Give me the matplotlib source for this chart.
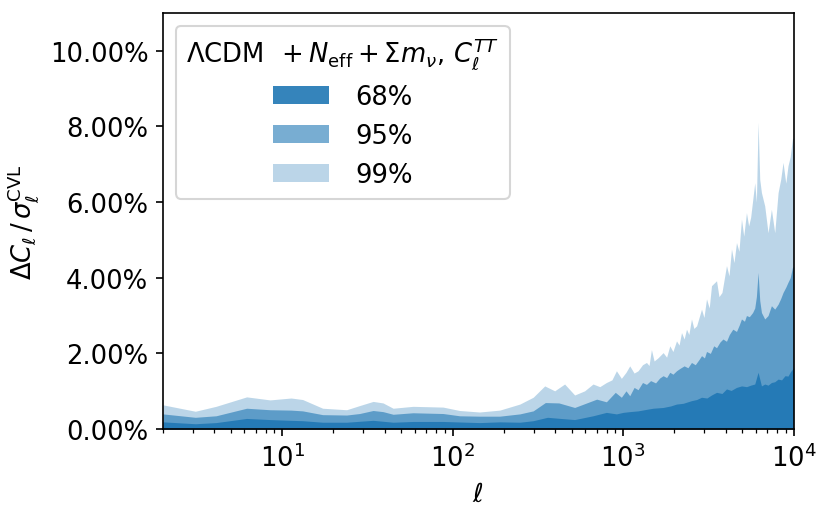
import matplotlib
matplotlib.use('Agg')
import matplotlib.pyplot as plt
from matplotlib.ticker import PercentFormatter

# multipole ell and the upper edge of each band (fraction)
ell_99 = [2, 3.1, 4.1, 6.2, 8.5, 11.3, 13.2, 17.3, 23.9, 28.5, 34.2, 39.1, 44.8, 58.6, 87.9,
          110, 144, 189, 248, 297, 347, 397, 454, 520, 595, 666, 730, 798, 860, 914, 977,
          1040, 1094, 1160, 1224, 1300, 1371, 1420, 1466, 1520, 1600, 1717, 1800, 1879, 1960,
          2057, 2130, 2201, 2280, 2354, 2430, 2518, 2600, 2700, 2884, 2980, 3085, 3200, 3300,
          3532, 3650, 3800, 4040, 4180, 4322, 4470, 4624, 4780, 4946, 5100, 5290, 5450, 5600,
          5917, 6050, 6190, 6330, 6478, 6770, 7080, 7410, 7750, 8110, 8400, 8670, 9000, 9270,
          9550, 9840, 10000]
upper_99 = [0.0064, 0.0047, 0.0060, 0.0085, 0.0077, 0.0082, 0.0078, 0.0055, 0.0051, 0.0062,
            0.0073, 0.0069, 0.0055, 0.0060, 0.0058, 0.0049, 0.0045, 0.0050, 0.0066, 0.0084,
            0.0114, 0.0101, 0.0119, 0.0090, 0.0101, 0.0119, 0.0112, 0.0123, 0.0130, 0.0154,
            0.0134, 0.0150, 0.0167, 0.0148, 0.0154, 0.0170, 0.0176, 0.0168, 0.0210, 0.0180,
            0.0188, 0.0202, 0.0190, 0.0220, 0.0205, 0.0233, 0.0222, 0.0255, 0.0238, 0.0264,
            0.0250, 0.0291, 0.0266, 0.0273, 0.0317, 0.0295, 0.0344, 0.0320, 0.0379, 0.0392,
            0.0350, 0.0361, 0.0432, 0.0405, 0.0476, 0.0440, 0.0493, 0.0470, 0.0555, 0.0510,
            0.0572, 0.0537, 0.0560, 0.0651, 0.0600, 0.0811, 0.0660, 0.0625, 0.0590, 0.0519,
            0.0581, 0.0519, 0.0625, 0.0660, 0.0705, 0.0650, 0.0696, 0.0720, 0.0767, 0.0770]

ell_95 = [2, 3.1, 4.1, 6.2, 8.5, 11.3, 13.2, 17.3, 23.9, 28.5, 34.2, 39.1, 44.8, 58.6, 87.9,
          110, 144, 189, 248, 297, 350, 420, 520, 620, 700, 798, 900, 977, 1040, 1094, 1160,
          1224, 1300, 1371, 1450, 1550, 1640, 1717, 1800, 1879, 1960, 2057, 2150, 2280, 2400,
          2518, 2650, 2800, 2884, 3000, 3085, 3250, 3400, 3532, 3700, 3850, 4040, 4200, 4400,
          4624, 4800, 4946, 5150, 5290, 5500, 5750, 5917, 6050, 6190, 6330, 6478, 6770, 7080,
          7410, 7750, 8110, 8400, 8670, 9000, 9270, 9550, 9840, 10000]
upper_95 = [0.0040, 0.0031, 0.0035, 0.0055, 0.0051, 0.0050, 0.0048, 0.0038, 0.0037, 0.0041,
            0.0049, 0.0046, 0.0039, 0.0043, 0.0041, 0.0035, 0.0034, 0.0034, 0.0040, 0.0048,
            0.0070, 0.0069, 0.0057, 0.0070, 0.0079, 0.0072, 0.0097, 0.0084, 0.0101, 0.0088,
            0.0110, 0.0104, 0.0123, 0.0118, 0.0128, 0.0122, 0.0135, 0.0141, 0.0136, 0.0150,
            0.0145, 0.0154, 0.0160, 0.0167, 0.0162, 0.0176, 0.0170, 0.0185, 0.0194, 0.0188,
            0.0205, 0.0200, 0.0220, 0.0215, 0.0230, 0.0238, 0.0232, 0.0250, 0.0264, 0.0258,
            0.0275, 0.0291, 0.0285, 0.0300, 0.0297, 0.0308, 0.0320, 0.0350, 0.0414, 0.0340,
            0.0308, 0.0291, 0.0300, 0.0326, 0.0317, 0.0330, 0.0345, 0.0361, 0.0375, 0.0388,
            0.0400, 0.0427, 0.0430]

ell_68 = [2, 3.1, 4.1, 6.2, 8.5, 11.3, 13.2, 17.3, 23.9, 34.2, 44.8, 58.6, 87.9, 144, 189,
          248, 297, 360, 430, 520, 666, 798, 914, 1000, 1094, 1224, 1371, 1500, 1717, 1900,
          2057, 2250, 2518, 2700, 2884, 3100, 3300, 3532, 3800, 4040, 4300, 4624, 4950, 5300,
          5600, 5917, 6190, 6478, 6770, 7080, 7410, 7750, 8110, 8500, 8900, 9270, 9600, 10000]
upper_68 = [0.0019, 0.0014, 0.0017, 0.0028, 0.0025, 0.0023, 0.0022, 0.0018, 0.0018, 0.0023,
            0.0018, 0.0020, 0.0020, 0.0017, 0.0019, 0.0018, 0.0022, 0.0031, 0.0028, 0.0025,
            0.0035, 0.0044, 0.0040, 0.0044, 0.0046, 0.0048, 0.0052, 0.0055, 0.0057, 0.0061,
            0.0066, 0.0068, 0.0075, 0.0078, 0.0084, 0.0082, 0.0090, 0.0097, 0.0094, 0.0106,
            0.0102, 0.0110, 0.0114, 0.0112, 0.0116, 0.0119, 0.0150, 0.0114, 0.0119, 0.0116,
            0.0123, 0.0125, 0.0132, 0.0130, 0.0141, 0.0140, 0.0152, 0.0162]

band_labels = ['68%', '95%', '99%']
fs = 12.4

fig = plt.figure(figsize=(5.54, 3.433), dpi=150)
ax = fig.add_axes([0.196, 0.165, 0.759, 0.808])

h99 = ax.fill_between(ell_99, 0, upper_99, color='C0', alpha=0.3, linewidth=0, label=band_labels[2])
h95 = ax.fill_between(ell_95, 0, upper_95, color='C0', alpha=0.6, linewidth=0, label=band_labels[1])
h68 = ax.fill_between(ell_68, 0, upper_68, color='C0', alpha=0.9, linewidth=0, label=band_labels[0])

ax.set_xscale('log')
ax.set_xlim(2, 1e4)
ax.set_ylim(0, 0.11)
ax.set_yticks([0, 0.02, 0.04, 0.06, 0.08, 0.10])
ax.yaxis.set_major_formatter(PercentFormatter(xmax=1, decimals=2))
ax.tick_params(labelsize=fs)
ax.set_xlabel(r'$\ell$', fontsize=fs)
ax.set_ylabel(r'$\Delta C_\ell\,/\,\sigma_\ell^{\rm CVL}$', fontsize=fs)

# legend title: leading {} makes the first "+" a binary operator (spaced)
leg = ax.legend(handles=[h68, h95, h99], loc='upper left', fontsize=fs,
                title=r'ΛCDM $\,{}+N_{\rm eff}+\Sigma m_\nu,\, C_\ell^{TT}$',
                title_fontsize=fs, handlelength=2.2, handletextpad=1.0)

fig.savefig('out.png', dpi=150)
